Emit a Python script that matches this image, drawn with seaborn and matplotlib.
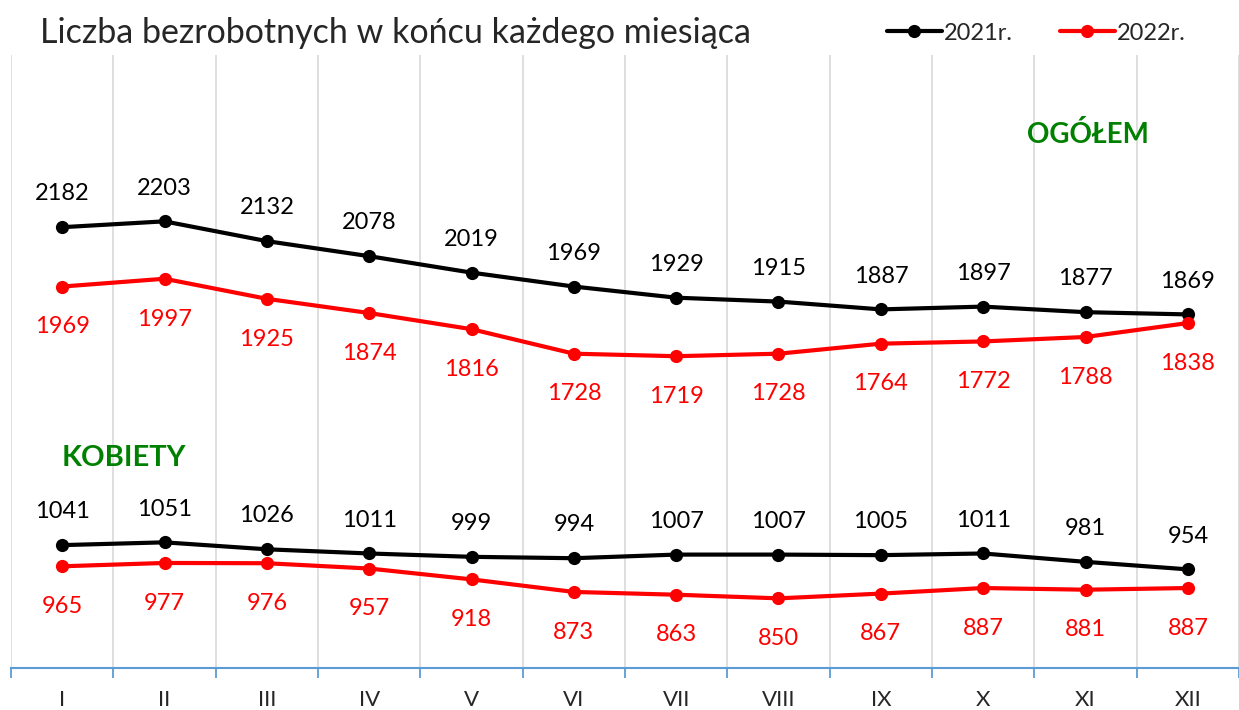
import matplotlib
matplotlib.use("Agg")
import matplotlib.pyplot as plt
import seaborn as sns
import pandas as pd
import numpy as np

months = ["I", "II", "III", "IV", "V", "VI", "VII", "VIII", "IX", "X", "XI", "XII"]
years = ["2021r.", "2022r."]
total_2021 = [2182, 2203, 2132, 2078, 2019, 1969, 1929, 1915, 1887, 1897, 1877, 1869]
total_2022 = [1969, 1997, 1925, 1874, 1816, 1728, 1719, 1728, 1764, 1772, 1788, 1838]
women_2021 = [1041, 1051, 1026, 1011, 999, 994, 1007, 1007, 1005, 1011, 981, 954]
women_2022 = [965, 977, 976, 957, 918, 873, 863, 850, 867, 887, 881, 887]

rows = []
for grp, y21, y22 in [("total", total_2021, total_2022), ("women", women_2021, women_2022)]:
    for i, m in enumerate(months):
        rows.append({"pos": i, "month": m, "value": y21[i], "year": years[0], "group": grp})
        rows.append({"pos": i, "month": m, "value": y22[i], "year": years[1], "group": grp})
df = pd.DataFrame(rows)

sns.set_style("white")
plt.rcParams["font.family"] = ["Lato", "DejaVu Sans"]

fig = plt.figure(figsize=(12.39, 7.10), dpi=100)
ax = fig.add_axes([11 / 1239, 1 - 668 / 710, 1 - 11 / 1239, (668 - 55) / 710])

palette = {"2021r.": "black", "2022r.": "#ff0000"}
sns.lineplot(data=df, x="pos", y="value", hue="year", units="group", estimator=None,
             palette=palette, marker="o", markersize=9.5, markeredgewidth=0,
             linewidth=3, ax=ax, zorder=3)

# data labels
for _, r in df.iterrows():
    if r["year"] == years[0]:
        ax.annotate(str(r["value"]), (r["pos"], r["value"]), xytext=(0, 24),
                    textcoords="offset points", ha="center", va="center",
                    fontsize=17, color="black")
    else:
        ax.annotate(str(r["value"]), (r["pos"], r["value"]), xytext=(0, -29),
                    textcoords="offset points", ha="center", va="center",
                    fontsize=17, color="#ff0000")

ax.set_xlim(-0.5, 11.5)
ax.set_ylim(600, 2800)
ax.set_xticks(range(12))
ax.set_xticklabels(months, fontsize=16)
ax.set_xticks(np.arange(-0.5, 12, 1), minor=True)
ax.tick_params(axis="x", which="major", length=0, pad=16)
ax.tick_params(axis="x", which="minor", bottom=True, length=7, width=1.3,
               color="#5b9bd5", direction="out")
ax.set_yticks([])
ax.grid(True, which="minor", axis="x", color="#d9d9d9", linewidth=1.2)
ax.set_xlabel("")
ax.set_ylabel("")
for s in ["top", "left", "right"]:
    ax.spines[s].set_visible(False)
ax.spines["bottom"].set_color("#5b9bd5")
ax.spines["bottom"].set_linewidth(1.5)

ax.text(10.02, 2515, "OGÓŁEM", color="#008000", fontsize=20, fontweight="bold",
        ha="center", va="center")
ax.text(0.6, 1355, "KOBIETY", color="#008000", fontsize=21, fontweight="bold",
        ha="center", va="center")

fig.text(40 / 1239, 1 - 33 / 710, "Liczba bezrobotnych w końcu każdego miesiąca",
         fontsize=24.5, ha="left", va="center")

leg = ax.legend(loc="center right", bbox_to_anchor=(1207 / 1239, 1 - 33 / 710),
                bbox_transform=fig.transFigure, ncol=2, frameon=False, fontsize=17,
                handlelength=2.3, columnspacing=2.0, handletextpad=0.1)
leg.set_title(None)

fig.savefig("out.png", dpi=100)
